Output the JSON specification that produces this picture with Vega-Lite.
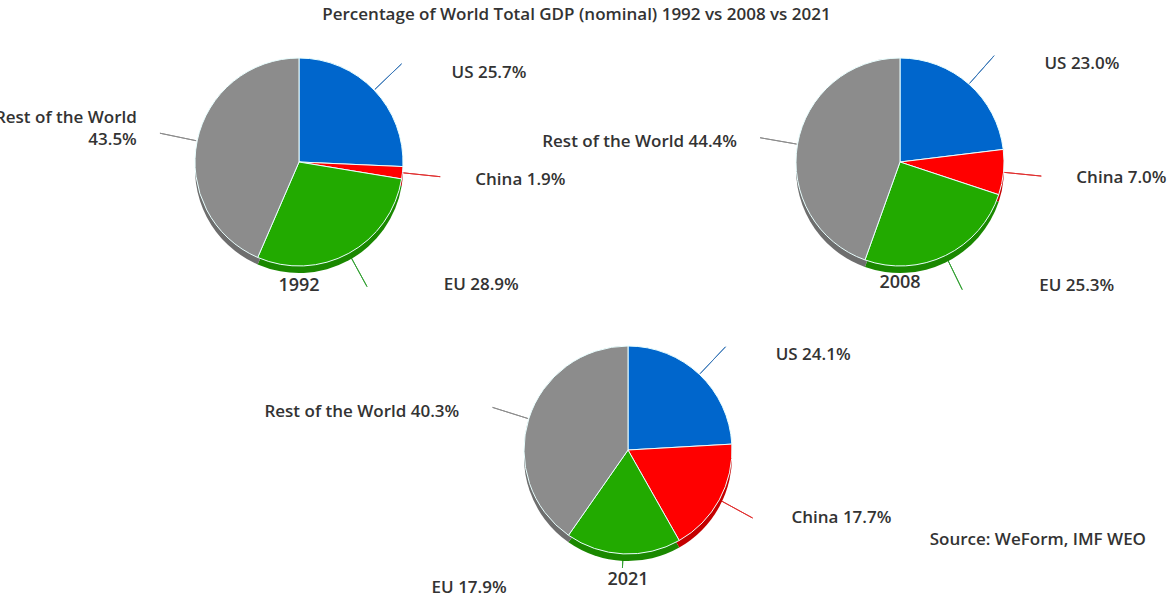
{
  "$schema": "https://vega.github.io/schema/vega-lite/v6.json",
  "background": "white",
  "padding": {"left": -6, "top": 5, "right": 5, "bottom": 5},
  "title": {"text": "Percentage of World Total GDP (nominal) 1992 vs 2008 vs 2021", "anchor": "middle", "dx": -46, "fontSize": 17, "fontWeight": 600, "font": "Open Sans", "color": "#333333", "offset": 30},
  "datasets": {
    "gdp": [
      {"year": 1992, "name": "US", "value": 25.7},
      {"year": 1992, "name": "China", "value": 1.9},
      {"year": 1992, "name": "EU", "value": 28.9},
      {"year": 1992, "name": "Rest of the World", "value": 43.5},
      {"year": 2008, "name": "US", "value": 23.0},
      {"year": 2008, "name": "China", "value": 7.0},
      {"year": 2008, "name": "EU", "value": 25.3},
      {"year": 2008, "name": "Rest of the World", "value": 44.4},
      {"year": 2021, "name": "US", "value": 24.1},
      {"year": 2021, "name": "China", "value": 17.7},
      {"year": 2021, "name": "EU", "value": 17.9},
      {"year": 2021, "name": "Rest of the World", "value": 40.3}
    ],
    "source": [{"text": "Source: WeForm, IMF WEO"}]
  },
  "config": {"view": {"stroke": null}},
  "spacing": 45,
  "vconcat": [
    {
      "hconcat": [
        {
          "width": 586, "height": 194,
          "layer": [
            {
              "data": {"name": "gdp"},
              "transform": [
                {"filter": "datum.year == 1992"},
                {"calculate": "indexof(['US','China','EU','Rest of the World'], datum.name)", "as": "rank"},
                {"calculate": "datum.name == 'Rest of the World' ? [datum.name, format(datum.value, '.1f') + '%'] : datum.name + ' ' + format(datum.value, '.1f') + '%'", "as": "label"}
              ],
              "encoding": {
                "theta": {"field": "value", "type": "quantitative", "stack": true, "scale": {"domain": [0, 100]}},
                "order": {"field": "rank", "type": "quantitative"}
              },
              "layer": [
                {"mark": {"type": "arc", "innerRadius": 105, "outerRadius": 142, "padAngle": 3, "strokeWidth": 1},
                 "encoding": {"stroke": {"field": "name", "type": "nominal", "legend": null, "scale": {"domain": ["US", "China", "EU", "Rest of the World"], "range": ["#3a78b8", "#e03030", "#33a033", "#8c8c8c"]}}}},
                {"mark": {"type": "arc", "outerRadius": 104, "yOffset": 7},
                 "encoding": {"color": {"field": "name", "type": "nominal", "legend": null, "scale": {"domain": ["US", "China", "EU", "Rest of the World"], "range": ["#0050a0", "#c40000", "#1a8800", "#6e6e6e"]}}}},
                {"mark": {"type": "arc", "outerRadius": 104, "stroke": "#eaffff", "strokeWidth": 1},
                 "encoding": {"fill": {"field": "name", "type": "nominal", "legend": null, "scale": {"domain": ["US", "China", "EU", "Rest of the World"], "range": ["#0066cc", "#ff0000", "#22aa00", "#8c8c8c"]}}}},
                {"mark": {"type": "text", "radius": 135, "font": "Open Sans", "fontSize": 17, "fontWeight": 600, "color": "#333333", "lineHeight": 22,
                          "align": {"expr": "datum.name == 'Rest of the World' ? 'right' : 'left'"},
                          "dx": {"expr": "datum.name == 'Rest of the World' ? -30 : datum.name == 'EU' ? 80 : datum.name == 'US' ? 55 : 42"},
                          "dy": {"expr": "datum.name == 'Rest of the World' ? -17 : 4"}},
                 "encoding": {"text": {"field": "label"}}}
              ],
              "resolve": {"scale": {"color": "independent", "stroke": "independent"}}
            },
            {
              "data": {"values": [{"year": "1992"}]},
              "mark": {"type": "text", "font": "Open Sans", "fontSize": 18, "fontWeight": 600, "color": "#333333", "dy": 124},
              "encoding": {"text": {"field": "year"}}
            }
          ]
        },
        {
          "width": 586, "height": 194,
          "layer": [
            {
              "data": {"name": "gdp"},
              "transform": [
                {"filter": "datum.year == 2008"},
                {"calculate": "indexof(['US','China','EU','Rest of the World'], datum.name)", "as": "rank"},
                {"calculate": "datum.name + ' ' + format(datum.value, '.1f') + '%'", "as": "label"}
              ],
              "encoding": {
                "theta": {"field": "value", "type": "quantitative", "stack": true, "scale": {"domain": [0, 99.7]}},
                "order": {"field": "rank", "type": "quantitative"}
              },
              "layer": [
                {"mark": {"type": "arc", "innerRadius": 105, "outerRadius": 142, "padAngle": 3, "strokeWidth": 1},
                 "encoding": {"stroke": {"field": "name", "type": "nominal", "legend": null, "scale": {"domain": ["US", "China", "EU", "Rest of the World"], "range": ["#3a78b8", "#e03030", "#33a033", "#8c8c8c"]}}}},
                {"mark": {"type": "arc", "outerRadius": 104, "yOffset": 7},
                 "encoding": {"color": {"field": "name", "type": "nominal", "legend": null, "scale": {"domain": ["US", "China", "EU", "Rest of the World"], "range": ["#0050a0", "#c40000", "#1a8800", "#6e6e6e"]}}}},
                {"mark": {"type": "arc", "outerRadius": 104, "stroke": "#eaffff", "strokeWidth": 1},
                 "encoding": {"fill": {"field": "name", "type": "nominal", "legend": null, "scale": {"domain": ["US", "China", "EU", "Rest of the World"], "range": ["#0066cc", "#ff0000", "#22aa00", "#8c8c8c"]}}}},
                {"mark": {"type": "text", "radius": 135, "font": "Open Sans", "fontSize": 17, "fontWeight": 600, "color": "#333333",
                          "align": {"expr": "datum.name == 'Rest of the World' ? 'right' : 'left'"},
                          "dx": {"expr": "datum.name == 'Rest of the World' ? -30 : datum.name == 'EU' ? 80 : datum.name == 'US' ? 55 : 42"},
                          "dy": 3},
                 "encoding": {"text": {"field": "label"}}}
              ],
              "resolve": {"scale": {"color": "independent", "stroke": "independent"}}
            },
            {
              "data": {"values": [{"year": "2008"}]},
              "mark": {"type": "text", "font": "Open Sans", "fontSize": 18, "fontWeight": 600, "color": "#333333", "dy": 121},
              "encoding": {"text": {"field": "year"}}
            }
          ]
        }
      ],
      "spacing": -50
    },
    {
      "width": 1244, "height": 220,
      "layer": [
        {
          "data": {"name": "gdp"},
          "transform": [
            {"filter": "datum.year == 2021"},
            {"calculate": "indexof(['US','China','EU','Rest of the World'], datum.name)", "as": "rank"},
            {"calculate": "datum.name + ' ' + format(datum.value, '.1f') + '%'", "as": "label"}
          ],
          "encoding": {
            "theta": {"field": "value", "type": "quantitative", "stack": true, "scale": {"domain": [0, 100]}},
            "order": {"field": "rank", "type": "quantitative"}
          },
          "layer": [
            {"mark": {"type": "arc", "innerRadius": 105, "padAngle": 3, "strokeWidth": 1,
                      "outerRadius": {"expr": "datum.name == 'EU' ? 118 : 142"}},
             "encoding": {"stroke": {"field": "name", "type": "nominal", "legend": null, "scale": {"domain": ["US", "China", "EU", "Rest of the World"], "range": ["#3a78b8", "#e03030", "#33a033", "#8c8c8c"]}}}},
            {"mark": {"type": "arc", "outerRadius": 104, "yOffset": 7},
             "encoding": {"color": {"field": "name", "type": "nominal", "legend": null, "scale": {"domain": ["US", "China", "EU", "Rest of the World"], "range": ["#0050a0", "#c40000", "#1a8800", "#6e6e6e"]}}}},
            {"mark": {"type": "arc", "outerRadius": 104, "stroke": "#eaffff", "strokeWidth": 1},
             "encoding": {"fill": {"field": "name", "type": "nominal", "legend": null, "scale": {"domain": ["US", "China", "EU", "Rest of the World"], "range": ["#0066cc", "#ff0000", "#22aa00", "#8c8c8c"]}}}},
            {"mark": {"type": "text", "radius": 135, "font": "Open Sans", "fontSize": 17, "fontWeight": 600, "color": "#333333",
                      "align": {"expr": "datum.name == 'Rest of the World' || datum.name == 'EU' ? 'right' : 'left'"},
                      "dx": {"expr": "datum.name == 'EU' ? -115 : datum.name == 'Rest of the World' ? -40 : datum.name == 'US' ? 55 : 45"},
                      "dy": 3},
             "encoding": {"text": {"field": "label"}}}
          ],
          "resolve": {"scale": {"color": "independent", "stroke": "independent"}}
        },
        {
          "data": {"values": [{"year": "2021"}]},
          "mark": {"type": "text", "font": "Open Sans", "fontSize": 18, "fontWeight": 600, "color": "#333333", "dy": 130},
          "encoding": {"text": {"field": "year"}}
        },
        {
          "data": {"name": "source"},
          "mark": {"type": "text", "font": "Open Sans", "fontSize": 17, "fontWeight": 600, "color": "#333333", "align": "right", "dx": 518, "dy": 90},
          "encoding": {"text": {"field": "text"}}
        }
      ]
    }
  ]
}
